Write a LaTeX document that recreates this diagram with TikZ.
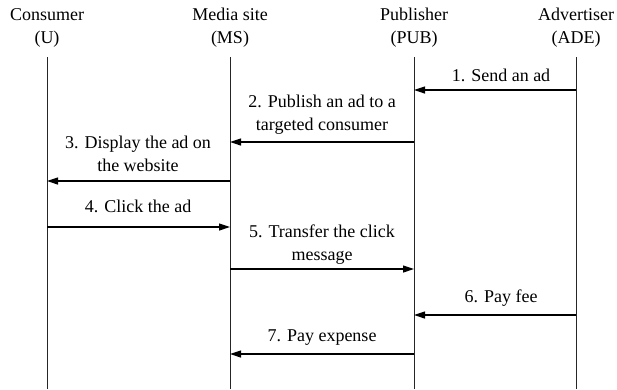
\documentclass[tikz,border=0pt]{standalone}
\usepackage{fontspec}
\setmainfont{Liberation Serif}
\usetikzlibrary{arrows.meta}
\begin{document}
\begin{tikzpicture}[x=1pt,y=-1pt,
  every node/.style={font=\fontsize{18}{22.5}\selectfont, inner sep=0pt, align=center},
  head/.style={anchor=base},
  lbl/.style={anchor=base},
  life/.style={line width=1pt, draw=black!85},
  msg/.style={line width=1.2pt, -{Triangle[length=11pt,width=7pt]}}]
\useasboundingbox (0,0) rectangle (617,389);

% participants (anchor at the baseline of the last line)
\node[head] (U)   at (47,43)  {Consumer\\(U)};
\node[head] (MS)  at (230,43) {Media site\\(MS)};
\node[head] (PUB) at (414,43) {Publisher\\(PUB)};
\node[head] (ADE) at (576,43) {Advertiser\\(ADE)};

% lifelines
\foreach \n/\x in {U/47, MS/230, PUB/414, ADE/576}{
  \coordinate (\n top) at (\x,57);
  \coordinate (\n bot) at (\x,389);
  \draw[life] (\n top) -- (\n bot);
}

% message end points on the lifelines
\coordinate (ade1) at (576,90);  \coordinate (pub1) at (414,90);
\coordinate (pub2) at (414,142); \coordinate (ms2)  at (230,142);
\coordinate (ms3)  at (230,181); \coordinate (u3)   at (47,181);
\coordinate (u4)   at (47,227);  \coordinate (ms4)  at (230,227);
\coordinate (ms5)  at (230,269); \coordinate (pub5) at (414,269);
\coordinate (ade6) at (576,315); \coordinate (pub6) at (414,315);
\coordinate (pub7) at (414,354); \coordinate (ms7)  at (230,354);

% messages
\draw[msg] (ade1) -- (pub1);
\draw[msg] (pub2) -- (ms2);
\draw[msg] (ms3) -- (u3);
\draw[msg] (u4) -- (ms4);
\draw[msg] (ms5) -- (pub5);
\draw[msg] (ade6) -- (pub6);
\draw[msg] (pub7) -- (ms7);

% message labels (anchor at the baseline of the last line)
\node[lbl] (l1) at (501,81)  {1. Send an ad};
\node[lbl] (l2) at (322,130) {2. Publish an ad to a\\targeted consumer};
\node[lbl] (l3) at (138,171) {3. Display the ad on\\the website};
\node[lbl] (l4) at (138,212) {4. Click the ad};
\node[lbl] (l5) at (322,260) {5. Transfer the click\\message};
\node[lbl] (l6) at (501,302) {6. Pay fee};
\node[lbl] (l7) at (322,341) {7. Pay expense};
\end{tikzpicture}
\end{document}
